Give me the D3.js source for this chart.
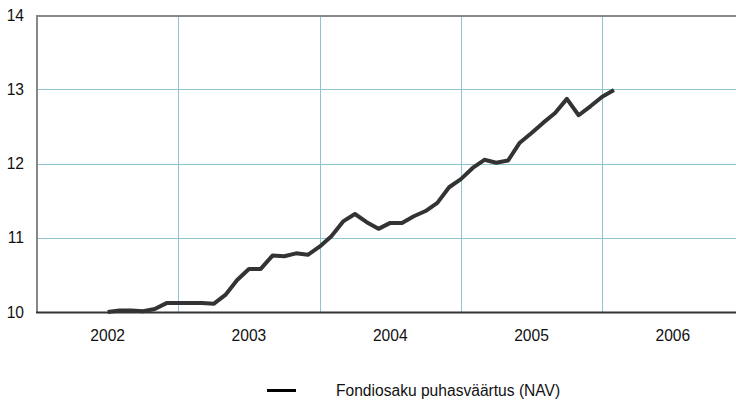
<!DOCTYPE html>
<meta charset="utf-8">
<body style="margin:0">
<style>
body { font-family: "Liberation Sans", Arial, sans-serif; }
.grid line { stroke: #8fc3cf; stroke-width: 1px; }
text { font-size: 15.6px; fill: #111; }
</style>
<script src="https://cdn.jsdelivr.net/npm/d3@7"></script>
<script>

// monthly NAV points, first one is July 2002
var months = [
  "2002-07","2002-08","2002-09","2002-10","2002-11","2002-12",
  "2003-01","2003-02","2003-03","2003-04","2003-05","2003-06",
  "2003-07","2003-08","2003-09","2003-10","2003-11","2003-12",
  "2004-01","2004-02","2004-03","2004-04","2004-05","2004-06",
  "2004-07","2004-08","2004-09","2004-10","2004-11","2004-12",
  "2005-01","2005-02","2005-03","2005-04","2005-05","2005-06",
  "2005-07","2005-08","2005-09","2005-10","2005-11","2005-12",
  "2006-01","2006-02"
];
var nav = [
  10.00, 10.02, 10.02, 10.01, 10.04, 10.12,
  10.12, 10.12, 10.12, 10.11, 10.23, 10.43,
  10.58, 10.58, 10.76, 10.75, 10.79, 10.77,
  10.88, 11.02, 11.22, 11.32, 11.21, 11.12,
  11.20, 11.20, 11.29, 11.36, 11.47, 11.68,
  11.79, 11.94, 12.05, 12.01, 12.04, 12.28,
  12.41, 12.55, 12.68, 12.87, 12.65, 12.77,
  12.90, 12.99
];
var years = [2002, 2003, 2004, 2005, 2006];
var yTicks = [10, 11, 12, 13, 14];
var legendLabel = "Fondiosaku puhasväärtus (NAV)";

var width = 736, height = 401;
var plotLeft = 37, plotTop = 15, plotBottom = 312;

var svg = d3.select("body").append("svg")
    .attr("width", width)
    .attr("height", height);

var x = d3.scaleLinear().domain([2002, 2007]).range([plotLeft, plotLeft + 5 * 141.3]);
var y = d3.scaleLinear().domain([10, 14]).range([plotBottom, plotTop]);

function toYear(s) {
  var p = s.split("-");
  return +p[0] + (+p[1] - 1) / 12;
}

var grid = svg.append("g").attr("class", "grid");
grid.selectAll(".h")
  .data(yTicks.slice(1, -1))
 .enter().append("line")
  .attr("x1", plotLeft).attr("x2", width)
  .attr("y1", function(d) { return Math.round(y(d)) + 0.5; })
  .attr("y2", function(d) { return Math.round(y(d)) + 0.5; });
grid.selectAll(".v")
  .data(years.slice(1))
 .enter().append("line")
  .attr("x1", function(d) { return Math.round(x(d)) + 0.5; })
  .attr("x2", function(d) { return Math.round(x(d)) + 0.5; })
  .attr("y1", plotTop).attr("y2", plotBottom);

// frame: grey top and left, dark bottom
svg.append("line")
  .attr("x1", plotLeft).attr("x2", width)
  .attr("y1", plotTop + 1).attr("y2", plotTop + 1)
  .style("stroke", "#888").style("stroke-width", 2);
svg.append("line")
  .attr("x1", plotLeft).attr("x2", plotLeft)
  .attr("y1", plotTop).attr("y2", plotBottom)
  .style("stroke", "#888").style("stroke-width", 2);
svg.append("line")
  .attr("x1", plotLeft - 1).attr("x2", width)
  .attr("y1", plotBottom + 0.5).attr("y2", plotBottom + 0.5)
  .style("stroke", "#333").style("stroke-width", 2);

svg.selectAll(".ylab")
  .data(yTicks)
 .enter().append("text")
  .attr("x", 24)
  .attr("y", function(d) { return y(d); })
  .attr("dy", "0.36em")
  .attr("text-anchor", "end")
  .text(function(d) { return d; });

svg.selectAll(".xlab")
  .data(years)
 .enter().append("text")
  .attr("x", function(d) { return x(d + 0.5); })
  .attr("y", 341)
  .attr("text-anchor", "middle")
  .text(function(d) { return d; });

var line = d3.line()
  .x(function(d, i) { return x(toYear(months[i])); })
  .y(function(d) { return y(d); });

svg.append("path")
  .datum(nav)
  .attr("d", line)
  .style("fill", "none")
  .style("stroke", "#333")
  .style("stroke-width", 4)
  .style("stroke-linejoin", "round");

// legend
svg.append("line")
  .attr("x1", 267).attr("x2", 296)
  .attr("y1", 390.5).attr("y2", 390.5)
  .style("stroke", "#000").style("stroke-width", 3);
svg.append("text")
  .attr("x", 336)
  .attr("y", 396)
  .text(legendLabel);

</script>
